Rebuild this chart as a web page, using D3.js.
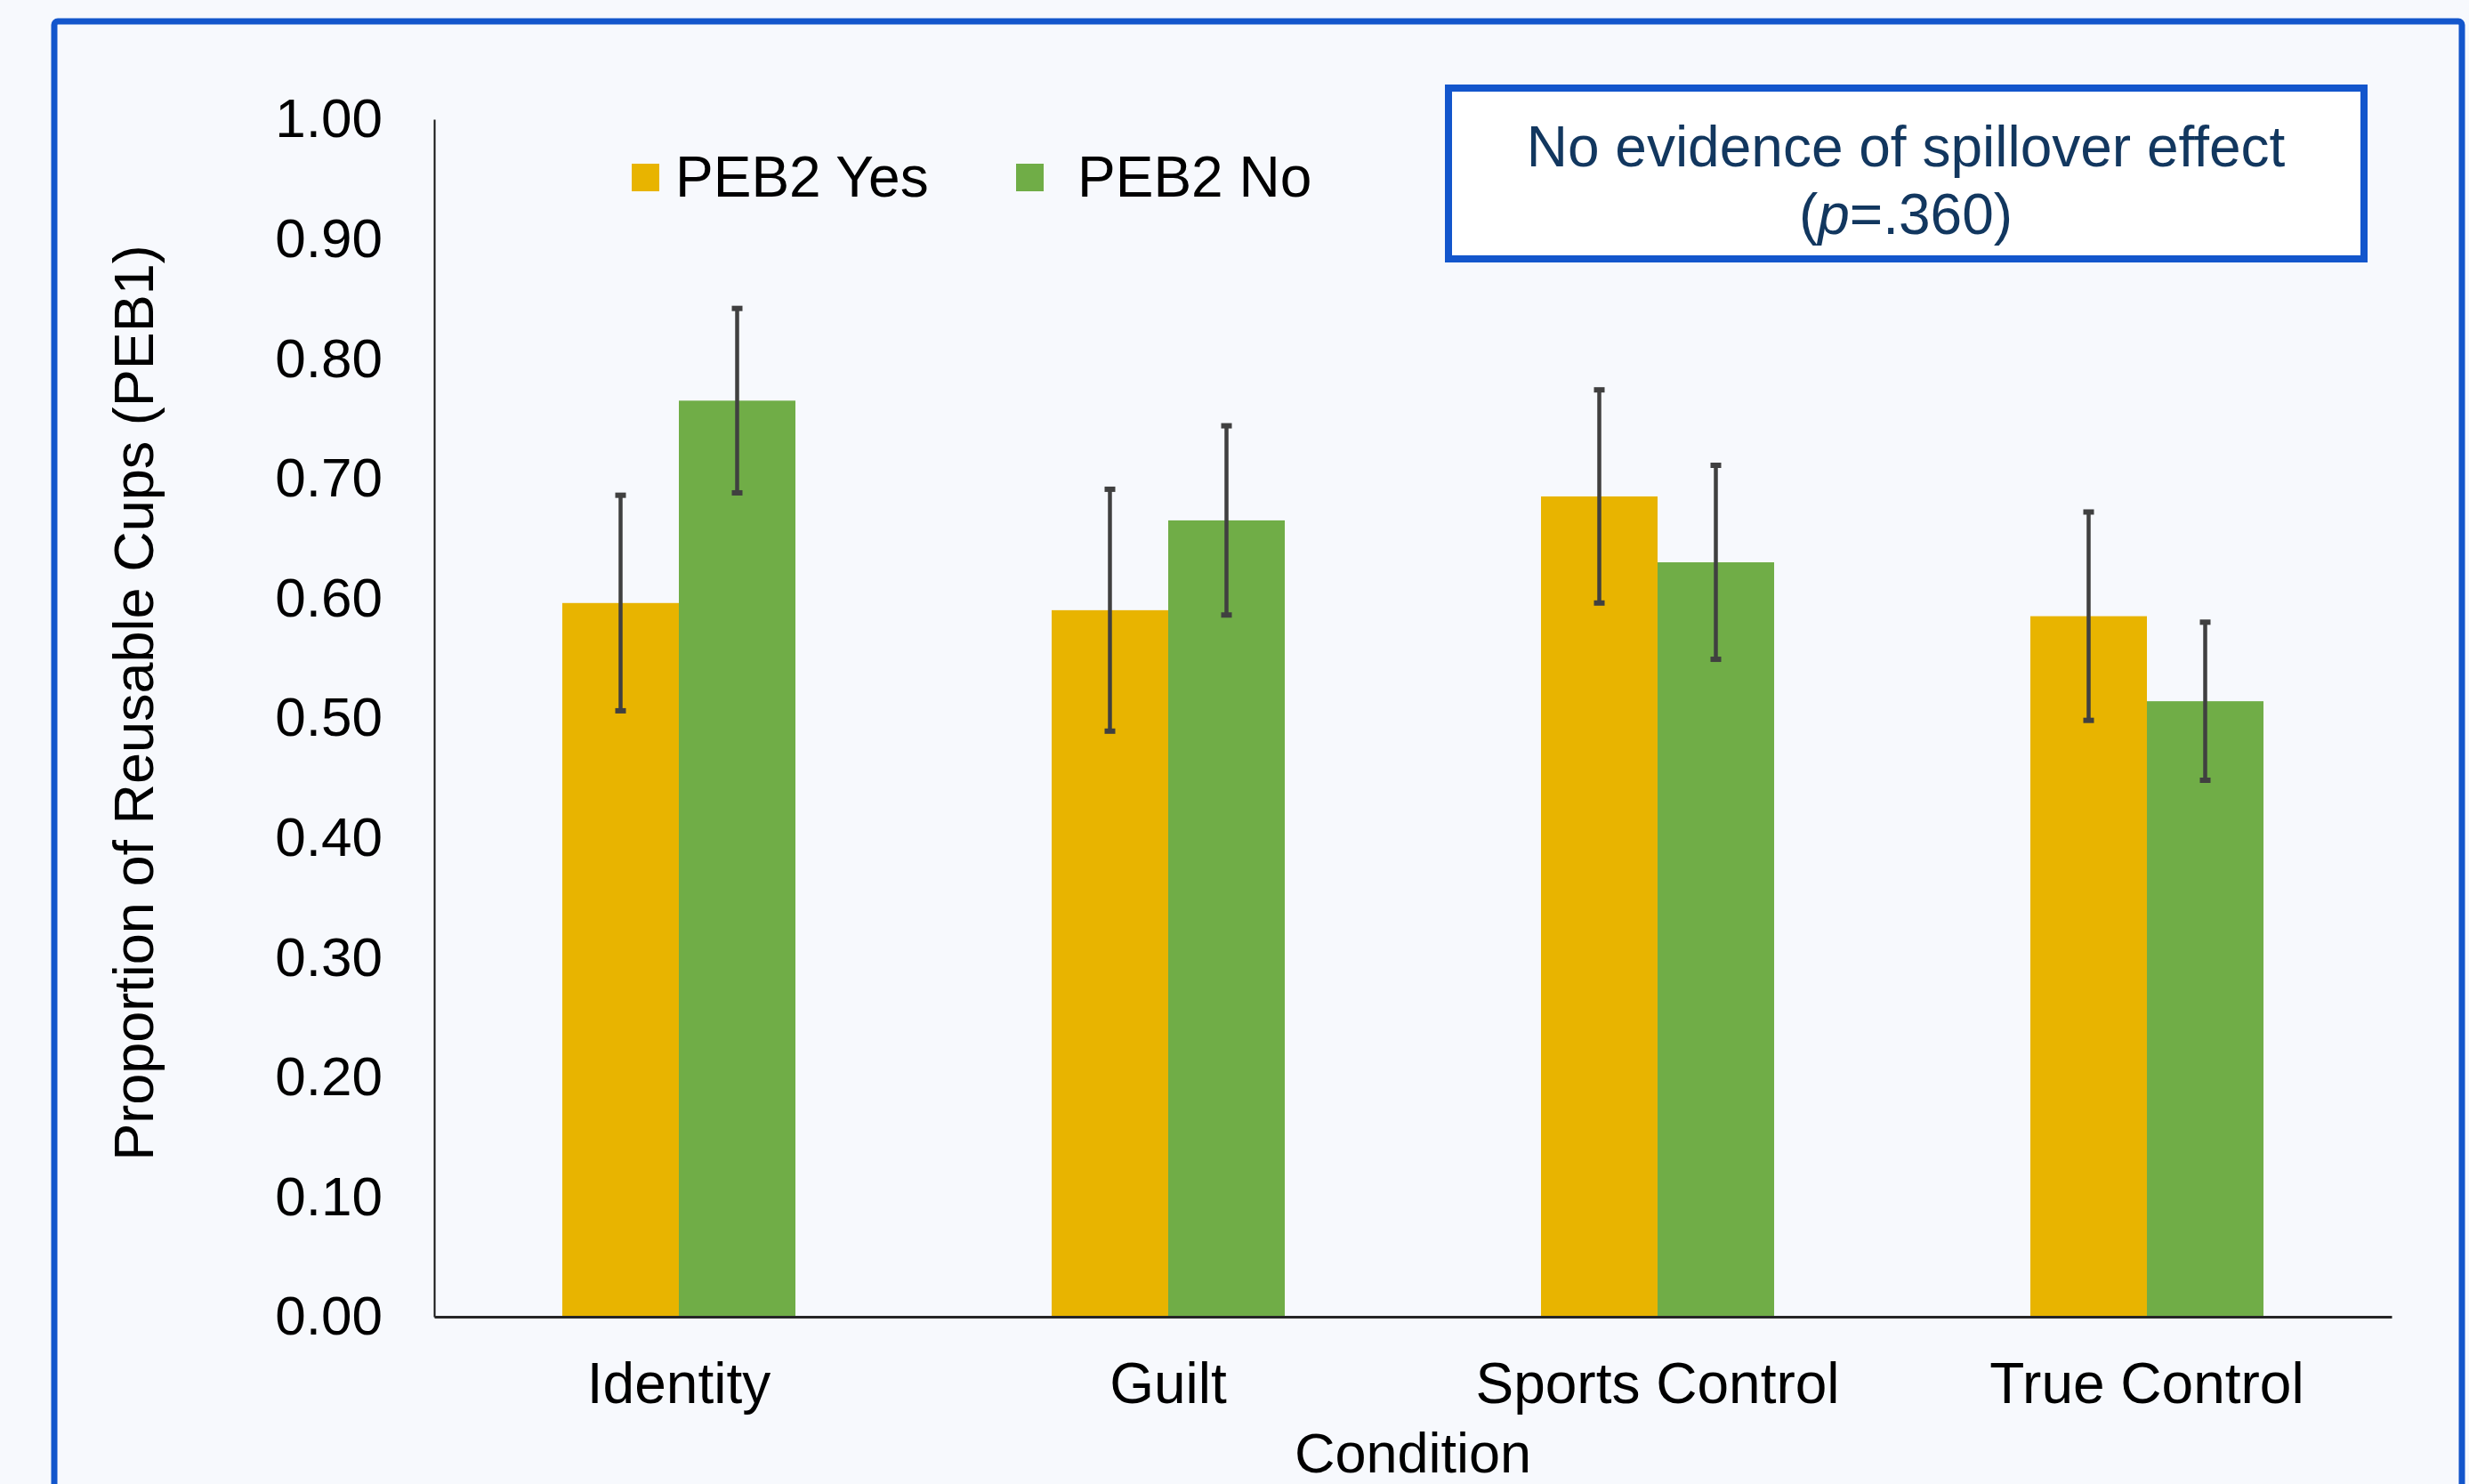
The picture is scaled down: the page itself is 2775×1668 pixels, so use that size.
<!DOCTYPE html>
<html>
<head>
<meta charset="utf-8">
<script src="https://d3js.org/d3.v7.min.js"></script>
<style>
  body { margin: 0; background: #F7F9FD; }
  text { font-family: "Liberation Sans", Arial, sans-serif; }
</style>
</head>
<body>
<script>
// chart data
const conditions = ["Identity", "Guilt", "Sports Control", "True Control"];
const seriesNames = ["PEB2 Yes", "PEB2 No"];
const pebYes = [0.596, 0.590, 0.685, 0.585];
const pebNo = [0.765, 0.665, 0.630, 0.514];
const errYes = [0.090, 0.101, 0.089, 0.087];
const errNo = [0.077, 0.079, 0.081, 0.066];
const yTicks = [0, 0.1, 0.2, 0.3, 0.4, 0.5, 0.6, 0.7, 0.8, 0.9, 1.0];
const colors = ["#E8B400", "#70AD47"];

const W = 2775, H = 1668;
const margin = { top: 134, right: 87, bottom: 188, left: 488 },
  width = W - margin.left - margin.right,
  height = H - margin.top - margin.bottom;

const root = d3.select("body")
  .append("svg")
  .attr("width", W)
  .attr("height", H);

root.append("rect")
  .attr("width", W).attr("height", H)
  .attr("fill", "#F7F9FD");

// outer blue frame
root.append("rect")
  .attr("x", 61).attr("y", 24)
  .attr("width", 2706).attr("height", 1700)
  .attr("rx", 4)
  .attr("fill", "none")
  .attr("stroke", "#1356CC")
  .attr("stroke-width", 7);

const svg = root.append("g")
  .attr("transform", `translate(${margin.left}, ${margin.top})`);

// build rows
const data = conditions.map((c, i) => ({
  cond: c,
  vals: [
    { key: seriesNames[0], v: pebYes[i], e: errYes[i], idx: 0 },
    { key: seriesNames[1], v: pebNo[i], e: errNo[i], idx: 1 }
  ]
}));

const x0 = d3.scaleBand()
  .domain(conditions)
  .range([0, width])
  .paddingInner(0.5236)
  .paddingOuter(0.2618);

const x1 = d3.scaleBand()
  .domain(seriesNames)
  .range([0, x0.bandwidth()]);

const y = d3.scaleLinear().domain([0, 1]).range([height, 0]);

// y axis (labels only + line)
const yAxis = d3.axisLeft(y)
  .tickValues(yTicks)
  .tickFormat(d3.format(".2f"))
  .tickSize(0)
  .tickPadding(58);
const gy = svg.append("g").call(yAxis);
gy.select(".domain").attr("stroke", "#111").attr("stroke-width", 2);
gy.selectAll("text")
  .style("font-family", "'Liberation Sans', Arial, sans-serif")
  .style("font-size", "62px")
  .attr("fill", "#000");

// bars
const groups = svg.selectAll(".grp")
  .data(data)
  .enter()
  .append("g")
  .attr("class", "grp")
  .attr("transform", d => `translate(${x0(d.cond)},0)`);

groups.selectAll("rect")
  .data(d => d.vals)
  .enter()
  .append("rect")
  .attr("x", d => x1(d.key))
  .attr("y", d => y(d.v))
  .attr("width", x1.bandwidth())
  .attr("height", d => height - y(d.v))
  .attr("fill", d => colors[d.idx]);

// error bars
const cx = d => x1(d.key) + x1.bandwidth() / 2;
groups.selectAll(".err")
  .data(d => d.vals)
  .enter()
  .append("line")
  .attr("class", "err")
  .attr("x1", cx).attr("x2", cx)
  .attr("y1", d => y(d.v + d.e))
  .attr("y2", d => y(d.v - d.e))
  .attr("stroke", "#404040")
  .attr("stroke-width", 4.5);

["top", "bot"].forEach(function (pos) {
  groups.selectAll(".cap-" + pos)
    .data(d => d.vals)
    .enter()
    .append("line")
    .attr("class", "cap-" + pos)
    .attr("x1", d => cx(d) - 6).attr("x2", d => cx(d) + 6)
    .attr("y1", d => y(pos === "top" ? d.v + d.e : d.v - d.e))
    .attr("y2", d => y(pos === "top" ? d.v + d.e : d.v - d.e))
    .attr("stroke", "#404040")
    .attr("stroke-width", 6);
});

// x axis
const xAxis = d3.axisBottom(x0).tickSize(0).tickPadding(52);
const gx = svg.append("g")
  .attr("transform", `translate(0, ${height})`)
  .call(xAxis);
gx.select(".domain").attr("stroke", "#262626").attr("stroke-width", 3);
gx.selectAll("text")
  .style("font-family", "'Liberation Sans', Arial, sans-serif")
  .style("font-size", "64px")
  .attr("fill", "#000");

// axis titles
svg.append("text")
  .attr("text-anchor", "middle")
  .attr("x", width / 2)
  .attr("y", 1655 - margin.top)
  .style("font-size", "63px")
  .text("Condition");

root.append("text")
  .attr("transform", "rotate(-90)")
  .attr("x", -790)
  .attr("y", 172)
  .style("text-anchor", "middle")
  .style("font-size", "63px")
  .text("Proportion of Reusable Cups (PEB1)");

// legend
const legendX = [710, 1142];
const legendTextX = [759, 1211];
seriesNames.forEach(function (s, i) {
  root.append("rect")
    .attr("x", legendX[i]).attr("y", 184)
    .attr("width", 31).attr("height", 31)
    .attr("fill", colors[i]);
  root.append("text")
    .attr("x", legendTextX[i])
    .attr("y", 221)
    .style("font-size", "64px")
    .text(s);
});

// annotation box
root.append("rect")
  .attr("x", 1628).attr("y", 99)
  .attr("width", 1029).attr("height", 192)
  .attr("fill", "#FFFFFF")
  .attr("stroke", "#1356CC")
  .attr("stroke-width", 8);

root.append("text")
  .attr("x", 2142).attr("y", 187)
  .attr("text-anchor", "middle")
  .attr("fill", "#12375F")
  .style("font-size", "64px")
  .text("No evidence of spillover effect");

const note2 = root.append("text")
  .attr("x", 2142).attr("y", 263)
  .attr("text-anchor", "middle")
  .attr("fill", "#12375F")
  .style("font-size", "64px");
note2.append("tspan").text("(");
note2.append("tspan").style("font-style", "italic").text("p");
note2.append("tspan").text("=.360)");
</script>
</body>
</html>
